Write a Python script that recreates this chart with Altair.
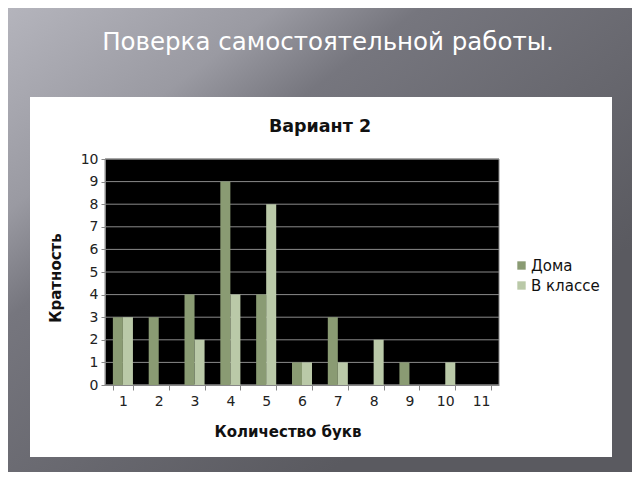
import altair as alt
import pandas as pd

categories = ["1", "2", "3", "4", "5", "6", "7", "8", "9", "10", "11"]
doma = [3, 3, 4, 9, 4, 1, 3, 0, 1, 0, 0]
v_klasse = [3, 0, 2, 4, 8, 1, 1, 2, 0, 1, 0]
series = ["Дома", "В классе"]
y_ticks = list(range(0, 11))

rows = []
for i, c in enumerate(categories):
    rows.append({"cat": c, "series": series[0], "val": doma[i]})
    rows.append({"cat": c, "series": series[1], "val": v_klasse[i]})
df = pd.DataFrame(rows)
grid_df = pd.DataFrame({"val": y_ticks})

W, H = 394, 226
FONT = "DejaVu Sans"

one = alt.Data(values=[{}])

y_enc = alt.Y("val:Q", scale=alt.Scale(domain=[0, 10]), title=None,
              axis=alt.Axis(values=y_ticks, labelFont=FONT, labelFontSize=14, labelColor="#222222",
                            tickColor="#888888", tickSize=4, domainColor="#888888",
                            labelPadding=3, grid=False, zindex=1))

bg = alt.Chart(one).mark_rect(
    fill=alt.LinearGradient(
        gradient="linear", x1=0, y1=0, x2=0.75, y2=0.75,
        stops=[alt.GradientStop(offset=0, color="#b6b6be"),
               alt.GradientStop(offset=0.3, color="#9a9aa2"),
               alt.GradientStop(offset=0.45, color="#76767e"),
               alt.GradientStop(offset=1, color="#5a5a60")]),
    clip=False,
).encode(x=alt.value(-105), x2=alt.value(535), y=alt.value(-159), y2=alt.value(321))

box = alt.Chart(one).mark_rect(fill="white", clip=False).encode(
    x=alt.value(-75), x2=alt.value(507), y=alt.value(-62), y2=alt.value(298))

plotbg = alt.Chart(one).mark_rect(fill="black", stroke="#888888", strokeWidth=1).encode(
    x=alt.value(0), x2=alt.value(W), y=alt.value(0), y2=alt.value(H))

grid = alt.Chart(grid_df).mark_rule(color="#8a8a8a", strokeWidth=1).encode(y=y_enc)

bars = alt.Chart(df).mark_bar().encode(
    x=alt.X("cat:N", sort=categories, title=None,
            scale=alt.Scale(paddingInner=0.44, paddingOuter=0.22),
            axis=alt.Axis(labelAngle=0, labelFont=FONT, labelFontSize=14, labelColor="#222222",
                          tickBand="extent", tickColor="#888888", tickSize=5,
                          domainColor="#888888", labelPadding=4, grid=False, zindex=1)),
    xOffset=alt.XOffset("series:N", sort=series),
    y=y_enc,
    color=alt.Color("series:N", sort=series,
                    scale=alt.Scale(domain=series, range=["#8a9b73", "#bac9a8"]),
                    legend=alt.Legend(title=None, orient="none", legendX=409, legendY=99,
                                      symbolType="square", symbolSize=70, symbolStrokeWidth=0,
                                      labelFont=FONT, labelFontSize=15, labelColor="#111111",
                                      rowPadding=4, labelOffset=2)),
)

def txt(s, x, y, size, bold=False, color="#111111", angle=0):
    return alt.Chart(one).mark_text(
        text=s, font=FONT, fontSize=size, fontWeight="bold" if bold else "normal",
        color=color, angle=angle, align="center", baseline="middle", clip=False,
    ).encode(x=alt.value(x), y=alt.value(y))

titles = [
    txt("Поверка самостоятельной работы.", 223, -116, 24.5, color="white"),
    txt("Вариант 2", 215, -32, 17.5, bold=True),
    txt("Кратность", -49, 119, 15, bold=True, angle=270),
    txt("Количество букв", 183, 273, 15, bold=True),
]

chart = alt.layer(bg, box, plotbg, grid, bars, *titles).properties(
    width=W, height=H,
    padding={"left": 97, "top": 151, "right": 133, "bottom": 87},
    autosize=alt.AutoSizeParams(type="none"),
).configure_view(strokeWidth=0).configure(background="#5a5a60")

chart.save("out.html", embed_options={"renderer": "svg", "actions": False})
